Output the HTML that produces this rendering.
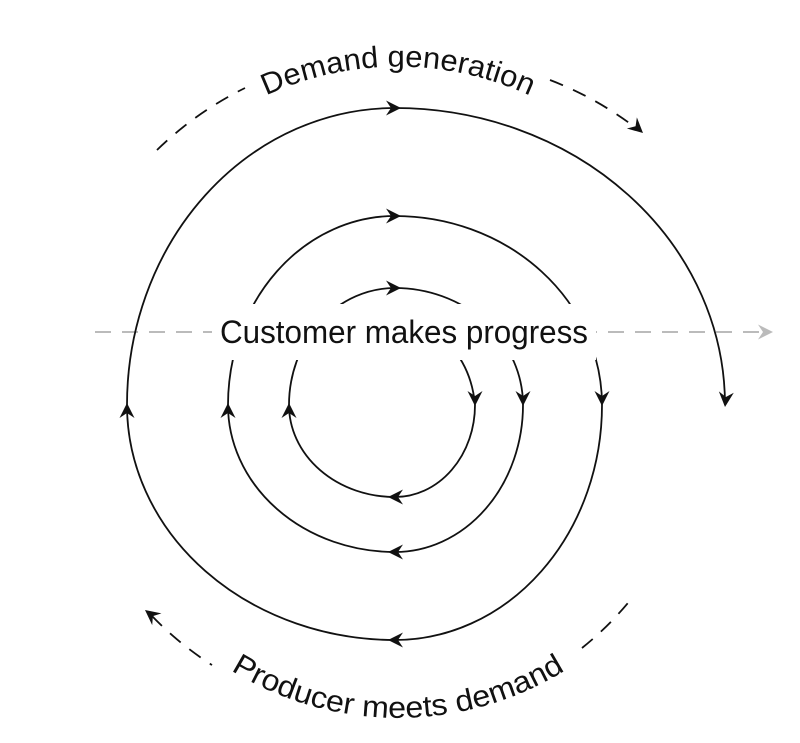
<!DOCTYPE html>
<html><head><meta charset="utf-8"><style>
html,body{margin:0;padding:0;background:#fff}
svg{display:block}
text{font-family:"Liberation Sans",sans-serif;fill:#111}
</style></head><body>
<svg width="800" height="743" viewBox="0 0 800 743" xmlns="http://www.w3.org/2000/svg">
<defs>
<path id="ah" d="M0,0 L-15,-7.5 L-10,0 L-15,7.5 Z" fill="#111"/>
<path id="ahg" d="M0,0 L-15,-7.5 L-10,0 L-15,7.5 Z" fill="#bbb"/>
<path id="tp1" d="M148,190 A315,315 0 0 1 648,190" fill="none"/>
<path id="tp2" d="M80,400 A318,318 0 0 0 716,400" fill="none"/>
</defs>
<path d="M95,332 H762" stroke="#bbb" stroke-width="2" stroke-dasharray="16 11" fill="none"/>
<use href="#ahg" transform="translate(773,332)"/>
<g fill="none" stroke="#111" stroke-width="1.8">
<path d="M127,405 A268,297 0 0 1 395,108 A330,297 0 0 1 725,405"/>
<path d="M602,405 A207,235 0 0 1 395,640 A268,235 0 0 1 127,405"/>
<path d="M228,405 A167,189 0 0 1 395,216 A207,189 0 0 1 602,405"/>
<path d="M523,405 A128,147 0 0 1 395,552 A167,147 0 0 1 228,405"/>
<path d="M289,405 A106,117 0 0 1 395,288 A128,117 0 0 1 523,405"/>
<path d="M475,405 A80,92 0 0 1 395,497 A106,92 0 0 1 289,405"/>
<path d="M450,345 Q472,370 475,405"/>
</g>
<g fill="none" stroke="#111" stroke-width="1.8" stroke-dasharray="14 11">
<path d="M157,150 A345,345 0 0 1 245,88"/>
<path d="M550,80 A345,345 0 0 1 632,125"/>
<path d="M152,616 A325,325 0 0 0 212,665"/>
<path d="M582,648 A325,325 0 0 0 632,598"/>
</g>
<rect x="212" y="304" width="384" height="56" fill="#fff"/>
<text x="220" y="343" font-size="32" textLength="368" lengthAdjust="spacingAndGlyphs">Customer makes progress</text>
<text font-size="30"><textPath href="#tp1" startOffset="50%" text-anchor="middle" textLength="272" lengthAdjust="spacingAndGlyphs">Demand generation</textPath></text>
<text font-size="30"><textPath href="#tp2" startOffset="50%" text-anchor="middle" textLength="352" lengthAdjust="spacingAndGlyphs">Producer meets demand</textPath></text>
<use href="#ah" transform="translate(401,108)"/>
<use href="#ah" transform="translate(401,216)"/>
<use href="#ah" transform="translate(401,288)"/>
<use href="#ah" transform="translate(475,406) rotate(90)"/>
<use href="#ah" transform="translate(523,406) rotate(90)"/>
<use href="#ah" transform="translate(602,406) rotate(90)"/>
<use href="#ah" transform="translate(725,407) rotate(95)"/>
<use href="#ah" transform="translate(388,497) rotate(180)"/>
<use href="#ah" transform="translate(388,552) rotate(180)"/>
<use href="#ah" transform="translate(388,640) rotate(180)"/>
<use href="#ah" transform="translate(127,403) rotate(-90)"/>
<use href="#ah" transform="translate(228,403) rotate(-90)"/>
<use href="#ah" transform="translate(289,403) rotate(-90)"/>
<use href="#ah" transform="translate(643,133) rotate(42)"/>
<use href="#ah" transform="translate(145,610) rotate(218)"/>
</svg>
</body></html>
